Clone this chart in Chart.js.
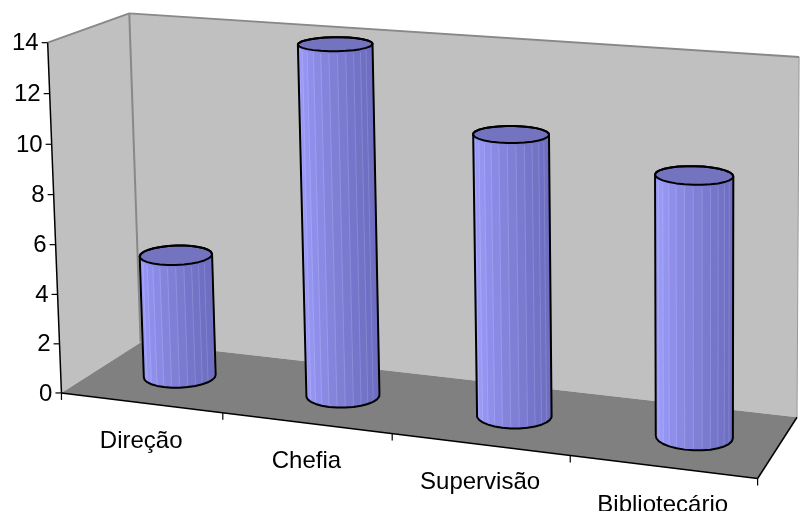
<!DOCTYPE html>
<html><head><meta charset="utf-8">
<script src="https://cdn.jsdelivr.net/npm/chart.js@4.4.0/dist/chart.umd.min.js"></script>
<style>html,body{margin:0;padding:0;background:#fff;overflow:hidden}canvas{display:block}</style>
</head><body>
<canvas id="c" width="801" height="511"></canvas>
<script>
// ---- data ----
const categories = ['Direção', 'Chefia', 'Supervisão', 'Bibliotecário'];
const values = [5, 14, 11, 10];
const yMin = 0, yMax = 14, yStep = 2;

// ---- 3D box projection calibration (layout only: box corners / front-edge divisions) ----
// [xFraction, yFraction, depthFraction, screenX, screenY]
const BOX_CAL = [
  [0,0,0, 62,392],[0.25,0,0, 223,413],[0.5,0,0, 392,434],[0.75,0,0, 570,456],[1,0,0, 758,478],
  [0,1,0, 47,43],[0,0,1, 140,343],[0,1,1, 130,13],[1,0,1, 797,417],[1,1,1, 799,57]
];
// horizontal band occupied by the series row inside the box (layout)
const SERIES_X0 = -0.002, SERIES_X1 = 1.013, SERIES_Z = 0.5, DEPTH_R = 0.21;
const FONT = '24px "Liberation Sans", Arial, sans-serif';

function fitProjection(pts){
  const A=[], b=[];
  for (const [X,Y,Z,u0,v0] of pts){
    const u=u0/100, v=v0/100;
    A.push([X,Y,Z,1,0,0,0,0,-u*X,-u*Y,-u*Z]); b.push(u);
    A.push([0,0,0,0,X,Y,Z,1,-v*X,-v*Y,-v*Z]); b.push(v);
  }
  const n=11, M=[];
  for(let i=0;i<n;i++) M.push(new Array(n+1).fill(0));
  for(let r=0;r<A.length;r++) for(let i=0;i<n;i++){
    for(let j=0;j<n;j++) M[i][j]+=A[r][i]*A[r][j];
    M[i][n]+=A[r][i]*b[r];
  }
  for(let c=0;c<n;c++){
    let p=c; for(let r=c+1;r<n;r++) if(Math.abs(M[r][c])>Math.abs(M[p][c])) p=r;
    const tmp=M[c]; M[c]=M[p]; M[p]=tmp;
    for(let r=0;r<n;r++){ if(r===c) continue; const f=M[r][c]/M[c][c]; for(let j=c;j<=n;j++) M[r][j]-=f*M[c][j]; }
  }
  const x=M.map((row,i)=>row[n]/row[i]);
  return (X,Y,Z)=>{ const w=x[8]*X+x[9]*Y+x[10]*Z+1;
    return [100*(x[0]*X+x[1]*Y+x[2]*Z+x[3])/w, 100*(x[4]*X+x[5]*Y+x[6]*Z+x[7])/w]; };
}

function hull(points){
  const p=points.slice().sort((a,b)=>a[0]-b[0]||a[1]-b[1]);
  const cross=(o,a,b)=>(a[0]-o[0])*(b[1]-o[1])-(a[1]-o[1])*(b[0]-o[0]);
  const lo=[],up=[];
  for(const q of p){ while(lo.length>=2&&cross(lo[lo.length-2],lo[lo.length-1],q)<=0) lo.pop(); lo.push(q); }
  for(let i=p.length-1;i>=0;i--){ const q=p[i]; while(up.length>=2&&cross(up[up.length-2],up[up.length-1],q)<=0) up.pop(); up.push(q); }
  up.pop(); lo.pop(); return lo.concat(up);
}

const cyl3d = {
  id:'cyl3d',
  beforeDatasetsDraw(chart){
    const ctx=chart.ctx, xs=chart.scales.x, ys=chart.scales.y;
    const P=fitProjection(BOX_CAL);
    const fy=v=>(ys.bottom-ys.getPixelForValue(v))/(ys.bottom-ys.top);
    const fx=i=>(xs.getPixelForValue(i)-xs.left)/xs.width;
    const nCat=categories.length;
    const path=(pts)=>{ ctx.beginPath(); pts.forEach((q,i)=>i?ctx.lineTo(q[0],q[1]):ctx.moveTo(q[0],q[1])); ctx.closePath(); };
    const poly=(pts3,fill)=>{ path(pts3.map(q=>P(...q))); ctx.fillStyle=fill; ctx.fill(); };
    const line=(a,b,col,w)=>{ const p=P(...a), q=P(...b); ctx.beginPath(); ctx.moveTo(p[0],p[1]); ctx.lineTo(q[0],q[1]); ctx.strokeStyle=col; ctx.lineWidth=w; ctx.stroke(); };
    ctx.save();
    ctx.lineJoin='round'; ctx.lineCap='butt';
    // walls and floor
    poly([[0,0,1],[1,0,1],[1,1,1],[0,1,1]],'#C0C0C0');
    poly([[0,0,0],[0,0,1],[0,1,1],[0,1,0]],'#C0C0C0');
    poly([[0,0,0],[1,0,0],[1,0,1],[0,0,1]],'#808080');
    line([0,1,1],[1,1,1],'#888888',2);
    line([0,1,0],[0,1,1],'#888888',2);
    line([0,0,1],[0,1,1],'#888888',2);
    line([1,0,1],[1,1,1],'#999999',1);
    // cylinders
    const meta=chart.getDatasetMeta(0);
    const N=28, rz=DEPTH_R, zc=SERIES_Z;
    const light=[160,160,255], dark=[110,110,194];
    const bx=f=>SERIES_X0+(SERIES_X1-SERIES_X0)*f;
    meta.data.forEach((el,i)=>{
      const cx=bx(fx(i));
      const rx=el.width/xs.width/2*(SERIES_X1-SERIES_X0);
      const y0=fy(yMin), y1=fy(values[i]);
      const B=[],T=[],th=[];
      for(let k=0;k<=N;k++){ const t=k/N*Math.PI*2; th.push(t);
        B.push(P(cx+rx*Math.cos(t),y0,zc-rz*Math.sin(t)));
        T.push(P(cx+rx*Math.cos(t),y1,zc-rz*Math.sin(t))); }
      const area=(q)=>{ let s=0; for(let j=0;j<q.length;j++){ const a=q[j],b=q[(j+1)%q.length]; s+=a[0]*b[1]-b[0]*a[1]; } return s; };
      const tr=Math.PI/2-0.05, tr2=Math.PI/2+0.05;
      const ref=Math.sign(area([P(cx+rx*Math.cos(tr),y0,zc-rz*Math.sin(tr)),P(cx+rx*Math.cos(tr2),y0,zc-rz*Math.sin(tr2)),P(cx+rx*Math.cos(tr2),y1,zc-rz*Math.sin(tr2)),P(cx+rx*Math.cos(tr),y1,zc-rz*Math.sin(tr))]));
      const H=hull(B.concat(T));
      path(H); ctx.fillStyle='rgb(140,140,232)'; ctx.fill();
      for(let k=0;k<N;k++){
        const q=[B[k],B[k+1],T[k+1],T[k]];
        if(Math.sign(area(q))!==ref) continue;
        const c=Math.cos((th[k]+th[k+1])/2); const t=(1+c)/2;
        const col=light.map((v,j)=>Math.round(v+(dark[j]-v)*t));
        path(q); ctx.fillStyle=`rgb(${col})`; ctx.fill();
        ctx.strokeStyle=`rgb(${col})`; ctx.lineWidth=0.8; ctx.stroke();
      }
      for(let k=1;k<N;k++){
        const q=[B[k-1],B[k],T[k],T[k-1]];
        if(Math.sign(area(q))!==ref) continue;
        ctx.beginPath(); ctx.moveTo(B[k][0],B[k][1]-2); ctx.lineTo(T[k][0],T[k][1]+3);
        ctx.strokeStyle='rgba(255,255,255,0.14)'; ctx.lineWidth=1; ctx.stroke();
      }
      path(T.slice(0,N)); ctx.fillStyle='#7373C0'; ctx.fill();
      ctx.strokeStyle='#000'; ctx.lineWidth=2;
      path(H); ctx.stroke();
      path(T.slice(0,N)); ctx.stroke();
    });
    // front axis lines
    line([0,0,0],[1,0,0],'#000',1.5);
    line([1,0,0],[1,0,1],'#000',1.5);
    line([0,0,0],[0,1,0],'#000',1.5);
    ctx.strokeStyle='#000'; ctx.lineWidth=1.2;
    for(let k=0;k<=nCat;k++){ const p=P(k/nCat,0,0); ctx.beginPath(); ctx.moveTo(p[0],p[1]); ctx.lineTo(p[0],p[1]+7); ctx.stroke(); }
    // y ticks and labels
    ctx.font=FONT; ctx.fillStyle='#000'; ctx.textAlign='right'; ctx.textBaseline='middle';
    ys.ticks.forEach(t=>{
      const p=P(0,fy(t.value),0);
      ctx.beginPath(); ctx.moveTo(p[0]-6,p[1]); ctx.lineTo(p[0],p[1]); ctx.stroke();
      ctx.fillText(String(t.value),p[0]-9,p[1]+1);
    });
    // category labels
    ctx.textAlign='center'; ctx.textBaseline='alphabetic';
    xs.getLabels().forEach((lab,i)=>{
      const p=P(fx(i),0,0);
      ctx.fillText(lab,p[0],p[1]+45);
    });
    ctx.restore();
    return false;
  }
};

new Chart(document.getElementById('c'),{
  type:'bar',
  data:{ labels:categories, datasets:[{ data:values, backgroundColor:'#9999FF', barPercentage:0.405, categoryPercentage:1 }] },
  options:{
    responsive:false, devicePixelRatio:1, animation:false,
    plugins:{ legend:{display:false}, tooltip:{enabled:false} },
    layout:{ padding:0 },
    scales:{
      x:{ display:false },
      y:{ display:false, min:yMin, max:yMax, ticks:{ stepSize:yStep } }
    }
  },
  plugins:[cyl3d]
});
</script>
</body></html>
